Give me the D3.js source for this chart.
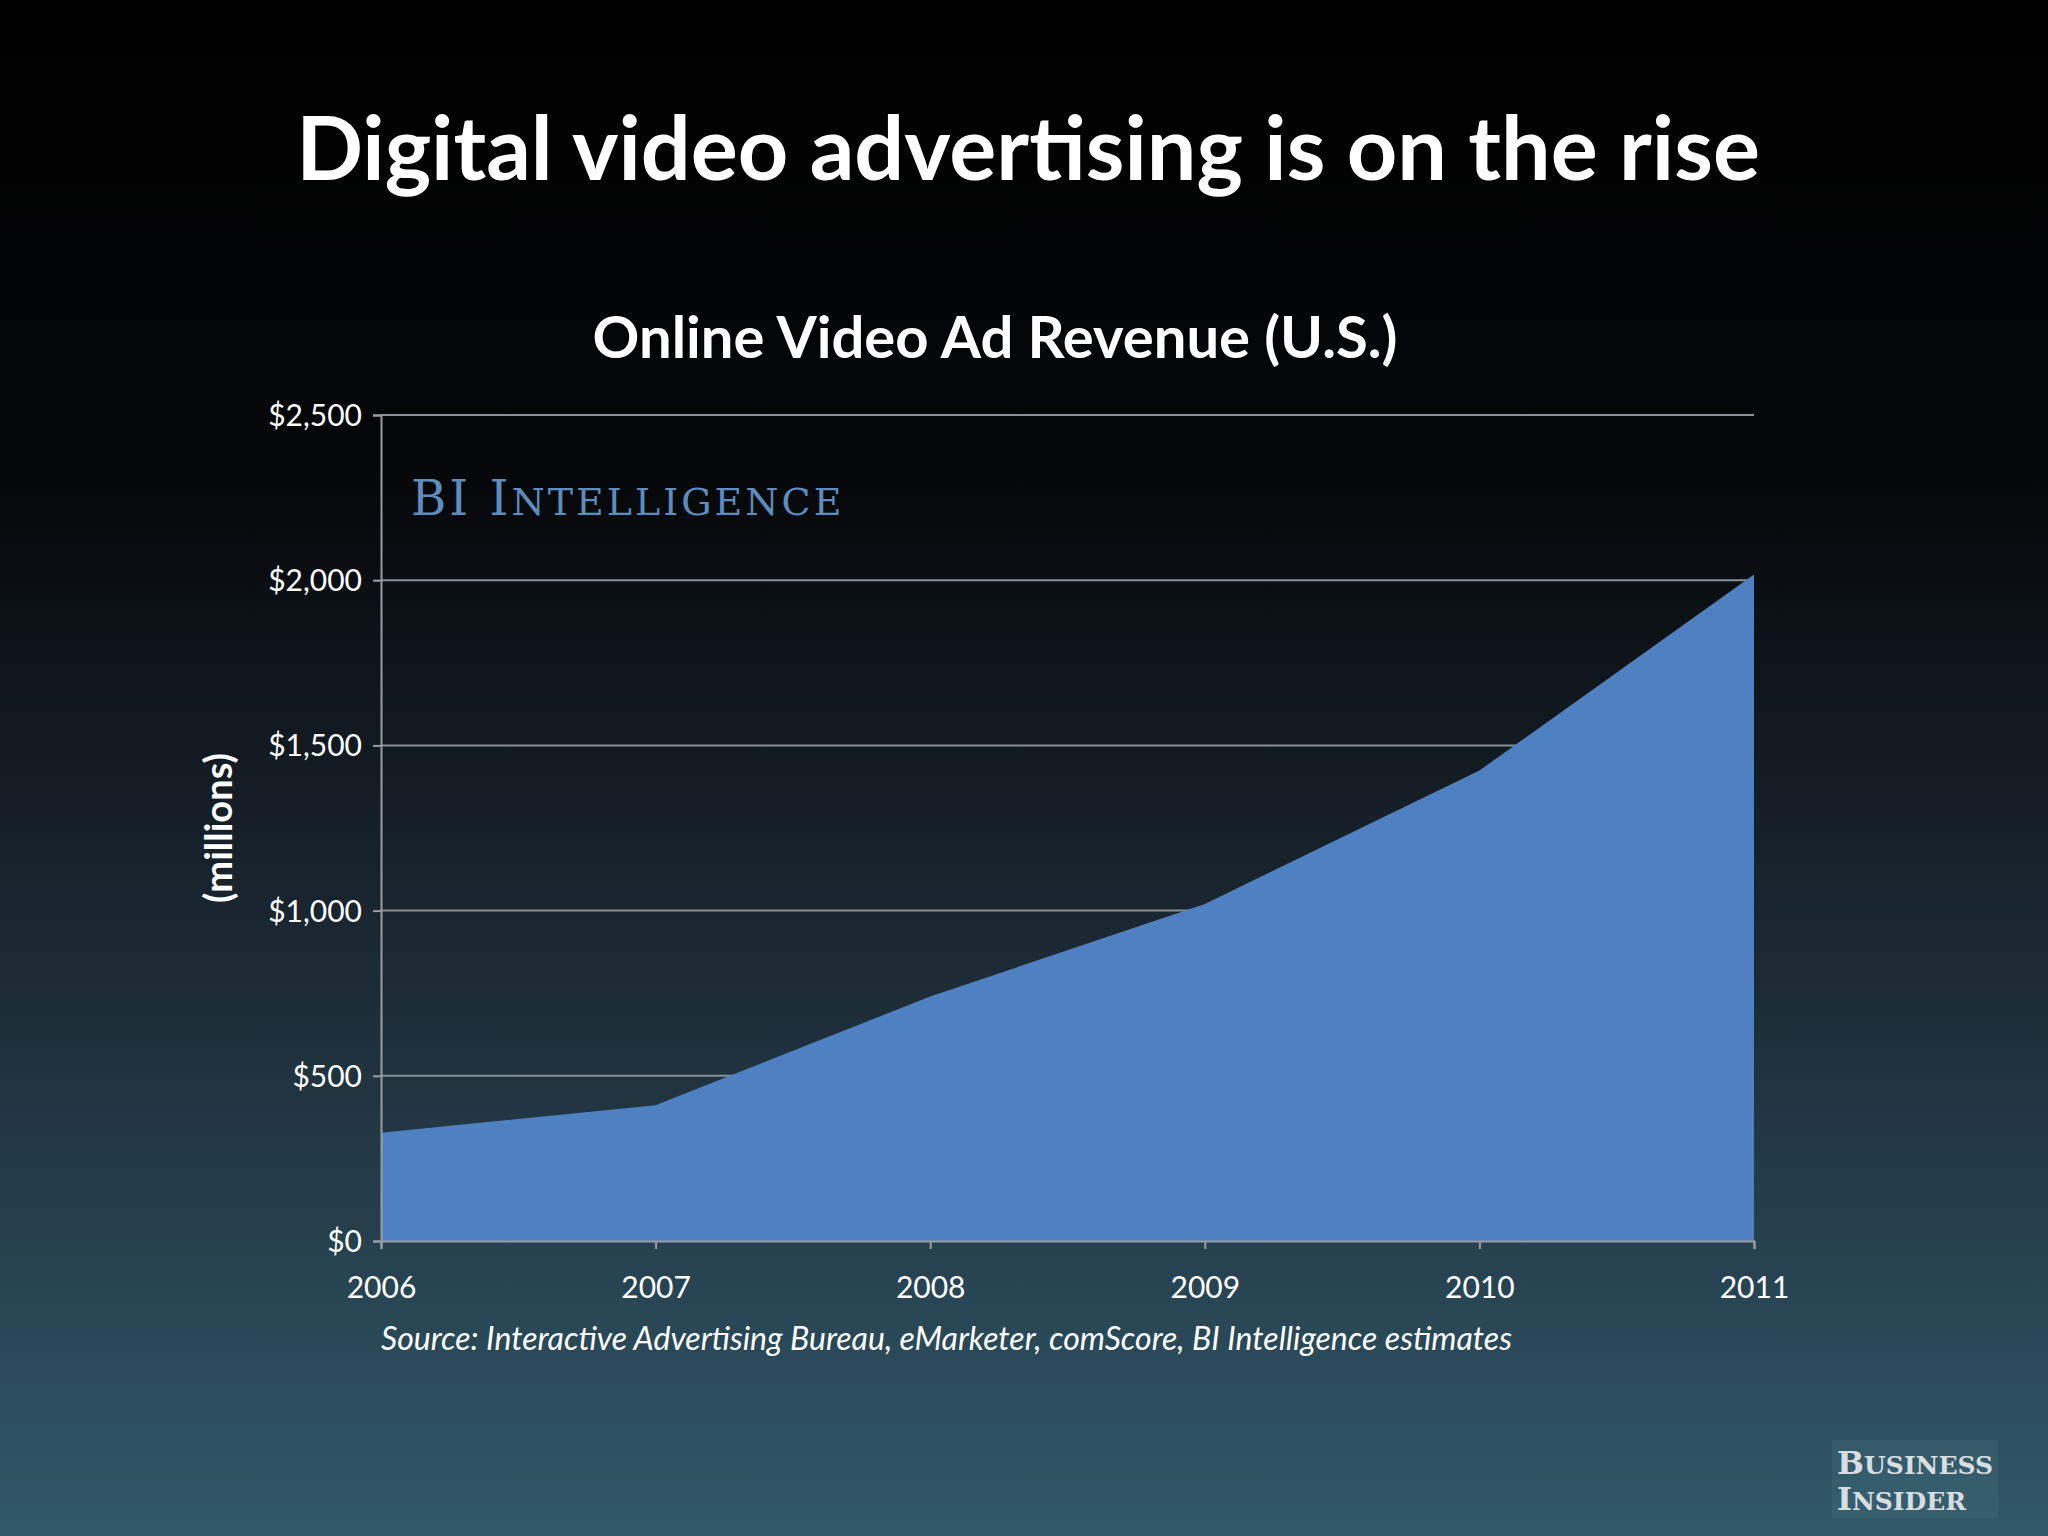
<!DOCTYPE html>
<html><head><meta charset="utf-8">
<script src="https://cdn.jsdelivr.net/npm/d3@7"></script>
<style>body{margin:0;background:#000}svg{display:block}</style>
</head><body><svg></svg>
<script>
const years = ["2006", "2007", "2008", "2009", "2010", "2011"];
const revenue = [328, 411, 740, 1020, 1424, 2017];
const yTicks = [0, 500, 1000, 1500, 2000, 2500];

const width = 2048, height = 1536;
const svg = d3.select("svg").attr("width", width).attr("height", height);

const defs = svg.append("defs");
const grad = defs.append("linearGradient").attr("id", "bg").attr("x1", 0).attr("y1", 0).attr("x2", 0).attr("y2", 1);
grad.append("stop").attr("offset", "0%").attr("stop-color", "#000000");
grad.append("stop").attr("offset", "30%").attr("stop-color", "#050608");
grad.append("stop").attr("offset", "60%").attr("stop-color", "#1a2630");
grad.append("stop").attr("offset", "100%").attr("stop-color", "#31596a");
svg.append("rect").attr("width", width).attr("height", height).attr("fill", "url(#bg)");

const font = "Lato, 'Open Sans', sans-serif";

svg.append("text").attr("x", 1028).attr("y", 180).attr("text-anchor", "middle")
    .attr("fill", "#fff").attr("font-family", font).attr("font-weight", "bold")
    .attr("font-size", 88).text("Digital video advertising is on the rise");

svg.append("text").attr("x", 995).attr("y", 358).attr("text-anchor", "middle")
    .attr("fill", "#fff").attr("font-family", font).attr("font-weight", "bold")
    .attr("font-size", 58).text("Online Video Ad Revenue (U.S.)");

const x = d3.scalePoint().domain(years).range([381, 1754]);
const y = d3.scaleLinear().domain([0, 2500]).range([1241, 415]);

// gridlines
svg.append("g").selectAll("line").data(yTicks.slice(1)).join("line")
    .attr("x1", 381).attr("x2", 1754).attr("y1", d => y(d)).attr("y2", d => y(d))
    .attr("stroke", "#8a8f96").attr("stroke-width", 2);

// logo
const logo = svg.append("text").attr("x", 411).attr("y", 515)
    .attr("fill", "#5d8dbf").attr("font-family", "'DejaVu Serif', 'Liberation Serif', serif")
    .attr("font-size", 48).attr("letter-spacing", 3);
logo.append("tspan").text("BI  I");
logo.append("tspan").attr("font-size", 38).text("NTELLIGENCE");

// area
const area = d3.area().x((d, i) => x(years[i])).y0(y(0)).y1(d => y(d));
svg.append("path").datum(revenue).attr("d", area).attr("fill", "#4f80c1");

// axes
const yAxis = svg.append("g").attr("transform", "translate(381,0)")
    .call(d3.axisLeft(y).tickValues(yTicks).tickSize(8).tickFormat(d => "$" + d3.format(",")(d)));
const xAxis = svg.append("g").attr("transform", `translate(0,${y(0)})`)
    .call(d3.axisBottom(x).tickSize(8).tickPadding(28));
[yAxis, xAxis].forEach(a => {
    a.select(".domain").attr("stroke", "#9a9ea4").attr("stroke-width", 2);
    a.selectAll(".tick line").attr("stroke", "#9a9ea4").attr("stroke-width", 2);
    a.selectAll("text").attr("fill", "#fff").attr("font-family", font).attr("font-size", 30);
});
yAxis.selectAll("text").attr("dx", "-8").attr("dy", "0.35em");

svg.append("text").attr("transform", "translate(232,828) rotate(-90)").attr("text-anchor", "middle")
    .attr("fill", "#fff").attr("font-family", font).attr("font-weight", "bold")
    .attr("font-size", 38).text("(millions)");

svg.append("text").attr("x", 381).attr("y", 1350)
    .attr("fill", "#fff").attr("font-family", font).attr("font-style", "italic")
    .attr("font-size", 32).text("Source: Interactive Advertising Bureau, eMarketer, comScore, BI Intelligence estimates");

// Business Insider logo
const bi = svg.append("g").attr("font-family", "'DejaVu Serif', 'Liberation Serif', serif")
    .attr("fill", "#d8dde2").attr("font-weight", "bold");
bi.append("rect").attr("x", 1832).attr("y", 1440).attr("width", 166).attr("height", 78).attr("fill", "#3b6272").attr("opacity", 0.6);
const b1 = bi.append("text").attr("x", 1837).attr("y", 1474).attr("font-size", 32);
b1.append("tspan").text("B"); b1.append("tspan").attr("font-size", 25).text("USINESS");
const b2 = bi.append("text").attr("x", 1837).attr("y", 1510).attr("font-size", 32);
b2.append("tspan").text("I"); b2.append("tspan").attr("font-size", 25).text("NSIDER");
</script></body></html>
